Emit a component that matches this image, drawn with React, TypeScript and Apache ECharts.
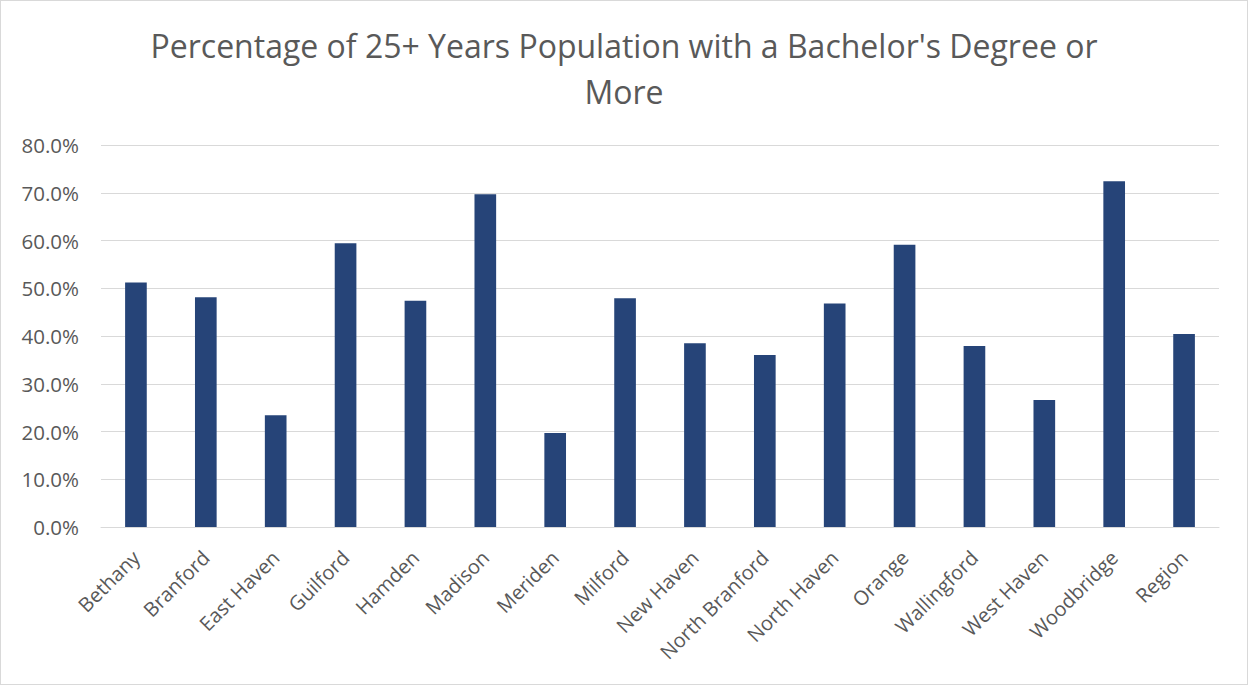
import React, { useEffect, useRef } from "react";
import * as echarts from "echarts";

const categories = [
  "Bethany", "Branford", "East Haven", "Guilford", "Hamden", "Madison", "Meriden", "Milford",
  "New Haven", "North Branford", "North Haven", "Orange", "Wallingford", "West Haven", "Woodbridge", "Region",
];
const values = [51.2, 48.1, 23.4, 59.4, 47.4, 69.7, 19.7, 47.9, 38.5, 36.0, 46.8, 59.1, 37.9, 26.6, 72.4, 40.4];
const titleLines = ["Percentage of 25+ Years Population with a Bachelor's Degree or", "More"];

const FONT = "'Open Sans', 'Noto Sans', sans-serif";

export default function App() {
  const ref = useRef<HTMLDivElement>(null);
  useEffect(() => {
    if (!ref.current) return;
    const chart = echarts.init(ref.current, undefined, { renderer: "svg" });
    chart.setOption({
      animation: false,
      backgroundColor: "#ffffff",
      title: {
        text: titleLines.join("\n"),
        left: "center",
        top: 16,
        textStyle: {
          fontFamily: FONT,
          fontSize: 32,
          fontWeight: "normal",
          color: "#595959",
          lineHeight: 46,
          align: "center",
        },
      },
      grid: { left: 100, right: 28, top: 144, bottom: 157, containLabel: false },
      xAxis: {
        type: "category",
        data: categories,
        axisLine: { lineStyle: { color: "#d9d9d9", width: 1 } },
        axisTick: { show: false },
        axisLabel: {
          interval: 0,
          rotate: 45,
          margin: 27,
          fontFamily: FONT,
          fontSize: 20,
          color: "#595959",
        },
      },
      yAxis: {
        type: "value",
        min: 0,
        max: 80,
        interval: 10,
        axisLine: { show: false },
        axisTick: { show: false },
        splitLine: { lineStyle: { color: "#d9d9d9", width: 1 } },
        axisLabel: {
          margin: 22,
          fontFamily: FONT,
          fontSize: 20.5,
          color: "#595959",
          formatter: (v: number) => v.toFixed(1) + "%",
        },
      },
      series: [
        {
          type: "bar",
          data: values,
          barWidth: "31%",
          itemStyle: { color: "#264478" },
        },
      ],
    });
    return () => chart.dispose();
  }, []);
  return (
    <div
      ref={ref}
      style={{
        position: "absolute",
        left: 0,
        top: 0,
        width: 1248,
        height: 685,
        boxSizing: "border-box",
        border: "1px solid #d9d9d9",
      }}
    />
  );
}
